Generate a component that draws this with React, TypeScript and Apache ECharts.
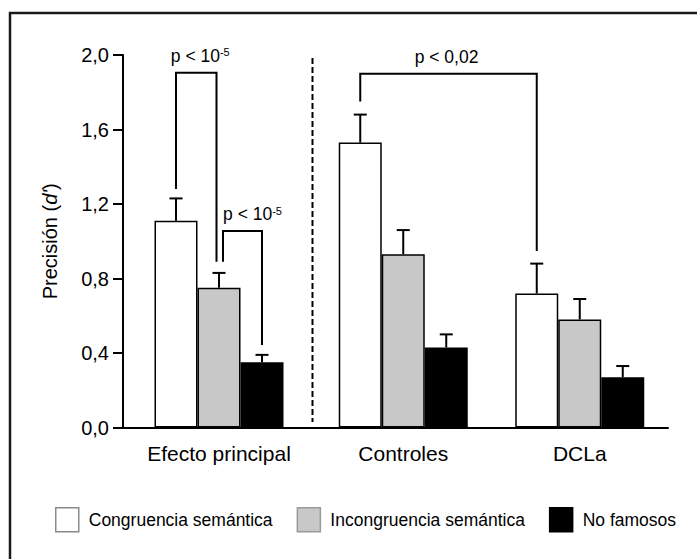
import React, { useEffect, useRef } from "react";
import * as echarts from "echarts";

// ---------- data ----------
const groups = ["Efecto principal", "Controles", "DCLa"];
const seriesNames = ["Congruencia semántica", "Incongruencia semántica", "No famosos"];
const congruencia = [1.11, 1.53, 0.72];
const congruenciaErr = [0.12, 0.15, 0.16];
const incongruencia = [0.75, 0.93, 0.58];
const incongruenciaErr = [0.08, 0.13, 0.11];
const noFamosos = [0.35, 0.43, 0.27];
const noFamososErr = [0.04, 0.07, 0.06];
const yMin = 0;
const yMax = 2.0;
const yStep = 0.4;
// significance brackets: [group, series, leg bottom value] for each leg, top value, label
const bracketLeft = [[0, 0, 1.28], [0, 1, 0.89], [1, 0, 1.75]];
const bracketRight = [[0, 1, 0.89], [0, 2, 0.443], [2, 0, 0.948]];
const bracketTop = [1.905, 1.055, 1.9];
const bracketLabels = ["p < 10{sup|-5}", "p < 10{sup|-5}", "p < 0,02"];

// ---------- style ----------
const FONT = '"Liberation Sans", Arial, Helvetica, sans-serif';
const BAR_W = 43;
const BAR_COLORS = ["#ffffff", "#c8c8c8", "#000000"];
const LEGEND_BORDERS = ["#8a8a8a", "#9a9a9a", "#000000"];
const GRID_GROUPS = [[0], [1, 2]];
const GRID_BOX = [
  { left: 123, top: 55, width: 192, height: 372.5 },
  { left: 315, top: 55, width: 353, height: 372.5 },
];
const LEG_NUDGE = [[0, -2.5], [4, 0], [0, 0]];
const LABEL_NUDGE = [4, 10, -2];

const series = [congruencia, incongruencia, noFamosos];
const errors = [congruenciaErr, incongruenciaErr, noFamososErr];

const gridOf = (g: number) => GRID_GROUPS.findIndex((arr) => arr.includes(g));
const localOf = (g: number) => GRID_GROUPS[gridOf(g)].indexOf(g);

export default function App() {
  const ref = useRef<HTMLDivElement>(null);

  useEffect(() => {
    if (!ref.current) return;
    const chart = echarts.init(ref.current, undefined, { renderer: "svg" });

    const xAxis: any[] = [];
    const yAxis: any[] = [];
    const allSeries: any[] = [];

    GRID_GROUPS.forEach((gIdx, k) => {
      xAxis.push({
        type: "category",
        gridIndex: k,
        data: gIdx.map((g) => groups[g]),
        axisLine: { show: true, lineStyle: { color: "#000", width: 2 } },
        axisTick: { show: false },
        axisLabel: { fontSize: 21, color: "#000", fontFamily: FONT, margin: 15 },
      });
      yAxis.push({
        type: "value",
        gridIndex: k,
        show: k === 0,
        min: yMin,
        max: yMax,
        interval: yStep,
        splitLine: { show: false },
        axisLine: { show: k === 0, lineStyle: { color: "#000", width: 2 } },
        axisTick: { show: k === 0, length: 10, lineStyle: { color: "#000", width: 2 } },
        axisLabel: {
          fontSize: 20,
          color: "#000",
          fontFamily: FONT,
          margin: 14,
          formatter: (v: number) => v.toFixed(1).replace(".", ","),
        },
        name: k === 0 ? "Precisión ({it|d'})" : "",
        nameLocation: "middle",
        nameGap: 63,
        nameTextStyle: {
          fontSize: 20,
          color: "#000",
          fontFamily: FONT,
          rich: { it: { fontStyle: "italic", fontSize: 20, color: "#000", fontFamily: FONT } },
        },
      });

      series.forEach((vals, s) => {
        allSeries.push({
          type: "bar",
          name: seriesNames[s],
          xAxisIndex: k,
          yAxisIndex: k,
          barWidth: BAR_W,
          barGap: "0%",
          data: gIdx.map((g) => vals[g]),
          itemStyle: { color: BAR_COLORS[s], borderColor: "#000", borderWidth: 1.5 },
          emphasis: { disabled: true },
        });
      });

      // error bars
      const errData: number[][] = [];
      gIdx.forEach((g, local) => {
        series.forEach((vals, s) => errData.push([local, vals[g], errors[s][g], s]));
      });
      allSeries.push({
        type: "custom",
        xAxisIndex: k,
        yAxisIndex: k,
        encode: { x: 0, y: 1 },
        data: errData,
        silent: true,
        renderItem: (_p: any, api: any) => {
          const c = api.value(0);
          const mean = api.value(1);
          const err = api.value(2);
          const s = api.value(3);
          const base = api.coord([c, mean]);
          const top = api.coord([c, mean + err]);
          const x = base[0] + (s - 1) * BAR_W;
          return {
            type: "group",
            children: [
              { type: "line", shape: { x1: x, y1: base[1], x2: x, y2: top[1] }, style: { stroke: "#000", lineWidth: 2 } },
              { type: "line", shape: { x1: x - 6.5, y1: top[1], x2: x + 6.5, y2: top[1] }, style: { stroke: "#000", lineWidth: 2 } },
            ],
          };
        },
      });

      // brackets
      const brData: number[][] = [];
      bracketTop.forEach((t, b) => {
        const L = bracketLeft[b];
        const R = bracketRight[b];
        if (gridOf(L[0]) !== k) return;
        brData.push([localOf(L[0]), L[1], L[2], localOf(R[0]), R[1], R[2], t, b]);
      });
      allSeries.push({
        type: "custom",
        xAxisIndex: k,
        yAxisIndex: k,
        encode: { x: 0, y: 6 },
        data: brData,
        silent: true,
        renderItem: (_p: any, api: any) => {
          const b = api.value(7);
          const lx = api.coord([api.value(0), 0])[0] + (api.value(1) - 1) * BAR_W + LEG_NUDGE[b][0];
          const rx = api.coord([api.value(3), 0])[0] + (api.value(4) - 1) * BAR_W + LEG_NUDGE[b][1];
          const ly = api.coord([api.value(0), api.value(2)])[1];
          const ry = api.coord([api.value(3), api.value(5)])[1];
          const ty = api.coord([api.value(0), api.value(6)])[1];
          return {
            type: "group",
            children: [
              {
                type: "polyline",
                shape: { points: [[lx, ly], [lx, ty], [rx, ty], [rx, ry]] },
                style: { stroke: "#000", lineWidth: 2, fill: null },
              },
              {
                type: "text",
                x: (lx + rx) / 2 + LABEL_NUDGE[b],
                y: ty - 8,
                style: {
                  text: bracketLabels[b],
                  fontSize: 17.5,
                  fontFamily: FONT,
                  fill: "#000",
                  align: "center",
                  verticalAlign: "bottom",
                  rich: { sup: { fontSize: 11, fontFamily: FONT, fill: "#000", verticalAlign: "top" } },
                },
              },
            ],
          };
        },
      });
    });

    const splitX = GRID_BOX[1].left - 2.5;

    chart.setOption({
      animation: false,
      backgroundColor: "#fff",
      textStyle: { fontFamily: FONT },
      grid: GRID_BOX.map((g) => ({ ...g, containLabel: false })),
      xAxis,
      yAxis,
      legend: {
        data: seriesNames.map((n, i) => ({
          name: n,
          itemStyle: { color: BAR_COLORS[i], borderColor: LEGEND_BORDERS[i], borderWidth: 1.5 },
        })),
        left: 55,
        top: 507,
        padding: 0,
        icon: "rect",
        itemWidth: 23,
        itemHeight: 24,
        itemGap: 24,
        selectedMode: false,
        textStyle: { fontSize: 17.5, color: "#000", fontFamily: FONT, padding: [0, 0, 0, 5] },
      },
      graphic: [
        {
          type: "rect",
          shape: { x: 10, y: 13, width: 800, height: 700 },
          style: { fill: null, stroke: "#1a1a1a", lineWidth: 2.5 },
          silent: true,
        },
        {
          type: "line",
          shape: { x1: splitX, y1: 58, x2: splitX, y2: 422 },
          style: { stroke: "#000", lineWidth: 2, lineDash: [6, 3] },
          silent: true,
        },
      ],
      series: allSeries,
    });

    return () => chart.dispose();
  }, []);

  return (
    <div
      ref={ref}
      style={{ position: "fixed", left: 0, top: 0, width: 697, height: 559, background: "#fff" }}
    />
  );
}
